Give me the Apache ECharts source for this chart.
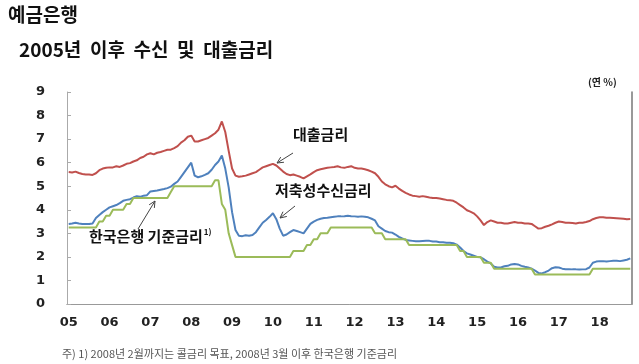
<!DOCTYPE html>
<html><head><meta charset="utf-8">
<script src="https://cdn.jsdelivr.net/npm/echarts@6/dist/echarts.min.js"></script>
<style>html,body{margin:0;padding:0;background:#fff}#c{width:639px;height:364px}</style>
</head><body><div id="c"></div>
<script>
// Monthly data, Jan 2005 – Oct 2018 (연 %)
const years = ['05','06','07','08','09','10','11','12','13','14','15','16','17','18'];
const lendingRate = [
 5.60,5.58,5.62,5.56,5.52,5.50,5.50,5.48,5.55,5.68,5.75,5.78,
 5.80,5.80,5.85,5.82,5.88,5.95,5.98,6.05,6.10,6.20,6.25,6.35,
 6.40,6.35,6.42,6.45,6.50,6.55,6.55,6.62,6.70,6.85,6.95,7.10,
 7.15,6.90,6.90,6.95,7.00,7.05,7.15,7.25,7.40,7.75,7.30,6.50,
 5.75,5.45,5.40,5.42,5.45,5.50,5.55,5.60,5.70,5.80,5.85,5.90,
 5.95,5.88,5.75,5.62,5.52,5.47,5.50,5.45,5.40,5.33,5.42,5.50,
 5.60,5.68,5.72,5.75,5.78,5.80,5.82,5.85,5.80,5.78,5.82,5.85,
 5.78,5.75,5.75,5.72,5.68,5.62,5.55,5.40,5.20,5.08,5.00,4.95,
 5.02,4.90,4.80,4.72,4.65,4.60,4.58,4.55,4.58,4.55,4.52,4.50,
 4.50,4.48,4.45,4.42,4.40,4.38,4.30,4.20,4.10,3.98,3.92,3.85,
 3.72,3.55,3.35,3.48,3.55,3.50,3.45,3.45,3.42,3.42,3.45,3.48,
 3.45,3.45,3.42,3.42,3.40,3.30,3.20,3.22,3.28,3.32,3.38,3.45,
 3.50,3.48,3.45,3.45,3.44,3.42,3.45,3.45,3.48,3.52,3.60,3.65,
 3.68,3.68,3.66,3.66,3.65,3.64,3.63,3.62,3.60,3.61
];
const depositRate = [
 3.40,3.42,3.45,3.42,3.40,3.40,3.40,3.42,3.65,3.78,3.90,4.00,
 4.10,4.15,4.20,4.28,4.38,4.42,4.45,4.52,4.58,4.55,4.60,4.62,
 4.78,4.80,4.82,4.85,4.88,4.92,4.98,5.10,5.20,5.40,5.60,5.80,
 6.00,5.45,5.38,5.42,5.48,5.55,5.70,5.90,6.05,6.30,5.75,4.95,
 3.90,3.14,2.90,2.88,2.92,2.90,2.93,3.05,3.25,3.45,3.57,3.70,
 3.85,3.60,3.20,2.90,2.95,3.05,3.14,3.10,3.05,3.00,3.20,3.40,
 3.50,3.57,3.62,3.65,3.66,3.68,3.70,3.72,3.72,3.73,3.75,3.73,
 3.72,3.70,3.72,3.70,3.68,3.62,3.55,3.30,3.20,3.10,3.05,3.03,
 2.95,2.85,2.78,2.72,2.70,2.68,2.66,2.66,2.67,2.68,2.68,2.65,
 2.65,2.62,2.62,2.60,2.60,2.58,2.52,2.40,2.25,2.15,2.10,2.05,
 2.00,1.98,1.90,1.80,1.72,1.58,1.55,1.55,1.60,1.62,1.68,1.70,
 1.68,1.62,1.58,1.55,1.50,1.42,1.32,1.30,1.35,1.42,1.52,1.56,
 1.55,1.50,1.48,1.48,1.47,1.47,1.46,1.47,1.48,1.55,1.75,1.80,
 1.82,1.82,1.80,1.82,1.84,1.84,1.82,1.85,1.88,1.94
];
const baseRate = [
 3.25,3.25,3.25,3.25,3.25,3.25,3.25,3.25,3.25,3.50,3.50,3.75,
 3.75,4.00,4.00,4.00,4.00,4.25,4.25,4.50,4.50,4.50,4.50,4.50,
 4.50,4.50,4.50,4.50,4.50,4.50,4.75,5.00,5.00,5.00,5.00,5.00,
 5.00,5.00,5.00,5.00,5.00,5.00,5.00,5.25,5.25,4.25,4.00,3.00,
 2.50,2.00,2.00,2.00,2.00,2.00,2.00,2.00,2.00,2.00,2.00,2.00,
 2.00,2.00,2.00,2.00,2.00,2.00,2.25,2.25,2.25,2.25,2.50,2.50,
 2.75,2.75,3.00,3.00,3.00,3.25,3.25,3.25,3.25,3.25,3.25,3.25,
 3.25,3.25,3.25,3.25,3.25,3.25,3.00,3.00,3.00,2.75,2.75,2.75,
 2.75,2.75,2.75,2.75,2.50,2.50,2.50,2.50,2.50,2.50,2.50,2.50,
 2.50,2.50,2.50,2.50,2.50,2.50,2.50,2.25,2.25,2.00,2.00,2.00,
 2.00,2.00,1.75,1.75,1.75,1.50,1.50,1.50,1.50,1.50,1.50,1.50,
 1.50,1.50,1.50,1.50,1.50,1.25,1.25,1.25,1.25,1.25,1.25,1.25,
 1.25,1.25,1.25,1.25,1.25,1.25,1.25,1.25,1.25,1.25,1.50,1.50,
 1.50,1.50,1.50,1.50,1.50,1.50,1.50,1.50,1.50,1.50
];
const months = lendingRate.map((_, i) => years[Math.floor(i / 12)] + '-' + String(i % 12 + 1).padStart(2, '0'));

const chart = echarts.init(document.getElementById('c'), null, {renderer: 'canvas'});

function arrow(x1, y1, x2, y2) {
  const a = Math.atan2(y2 - y1, x2 - x1), L = 7, w = 0.45;
  return [
    {type: 'line', shape: {x1, y1, x2, y2}, style: {stroke: '#444', lineWidth: 1}},
    {type: 'polyline', shape: {points: [
      [x2 - L * Math.cos(a - w), y2 - L * Math.sin(a - w)], [x2, y2],
      [x2 - L * Math.cos(a + w), y2 - L * Math.sin(a + w)]]},
     style: {stroke: '#444', lineWidth: 1, fill: null}}
  ];
}
const ff = '"Noto Sans CJK KR", "DejaVu Sans", sans-serif';
const lineCommon = {type: 'line', showSymbol: false, symbol: 'none', animation: false};

chart.setOption({
  backgroundColor: '#fff',
  animation: false,
  grid: {left: 67, right: 7, top: 92, bottom: 60},
  xAxis: [{
    type: 'category', data: months, boundaryGap: true,
    axisLine: {lineStyle: {color: '#aaa', width: 1}},
    axisTick: {inside: true, length: 4, lineStyle: {color: '#aaa'}, interval: (i) => i % 12 === 0},
    axisLabel: {interval: (i) => i % 12 === 0, formatter: (v) => v.slice(0, 2), margin: 12,
      fontFamily: '"DejaVu Sans", sans-serif', fontWeight: 'bold', fontSize: 13, color: '#222'},
    splitLine: {show: false}
  }, {
    type: 'category', data: months, position: 'top',
    axisLine: {show: true, lineStyle: {color: '#999', width: 1}},
    axisTick: {show: false}, axisLabel: {show: false}, splitLine: {show: false}
  }],
  yAxis: [{
    type: 'value', min: 0, max: 9, interval: 1,
    axisLine: {show: true, lineStyle: {color: '#aaa', width: 1}},
    axisTick: {show: true, inside: true, length: 4, lineStyle: {color: '#aaa'}},
    axisLabel: {margin: 22, fontFamily: '"DejaVu Sans", sans-serif', fontWeight: 'bold', fontSize: 13, color: '#222'},
    splitLine: {show: false}
  }, {
    type: 'value', min: 0, max: 9, interval: 1, position: 'right',
    axisLine: {show: true, lineStyle: {color: '#777', width: 1.5}},
    axisTick: {show: false}, axisLabel: {show: false}, splitLine: {show: false}
  }],
  series: [
    Object.assign({name: '대출금리', data: lendingRate, itemStyle: {color: '#c0504d'}, lineStyle: {width: 2, color: '#c0504d'}}, lineCommon),
    Object.assign({name: '저축성수신금리', data: depositRate, itemStyle: {color: '#4f81bd'}, lineStyle: {width: 2, color: '#4f81bd'}}, lineCommon),
    Object.assign({name: '한국은행 기준금리', data: baseRate, itemStyle: {color: '#9bbb59'}, lineStyle: {width: 2, color: '#9bbb59'}}, lineCommon)
  ],
  graphic: [
    {type: 'text', left: 8, top: 5, style: {text: '예금은행', font: 'bold 19px ' + ff, fill: '#111'}},
    {type: 'text', left: 19, top: 40, style: {text: '2005년  이후  수신  및  대출금리', font: 'bold 19px ' + ff, fill: '#111'}},
    {type: 'text', left: 588, top: 77, style: {text: '(연 %)', font: 'bold 10px ' + ff, fill: '#222'}},
    {type: 'text', left: 62, top: 348, style: {text: '주) 1) 2008년 2월까지는 콜금리 목표, 2008년 3월 이후 한국은행 기준금리', font: '11px ' + ff, fill: '#555'}},
    {type: 'text', left: 293, top: 127, style: {text: '대출금리', font: 'bold 15px ' + ff, fill: '#111'}},
    {type: 'text', left: 275, top: 183, style: {text: '저축성수신금리', font: 'bold 15px ' + ff, fill: '#111'}},
    {type: 'text', left: 89, top: 228, style: {
      text: '{a|한국은행 기준금리}{s|1)}',
      rich: {a: {font: 'bold 15px ' + ff, fill: '#111'}, s: {font: 'bold 8px ' + ff, fill: '#111', verticalAlign: 'top', padding: [0, 0, 8, 1]}}}},
    ...arrow(293, 153, 277, 163),
    ...arrow(295, 206, 280, 218),
    ...arrow(138, 229, 155, 201)
  ]
});
</script>
</body></html>
